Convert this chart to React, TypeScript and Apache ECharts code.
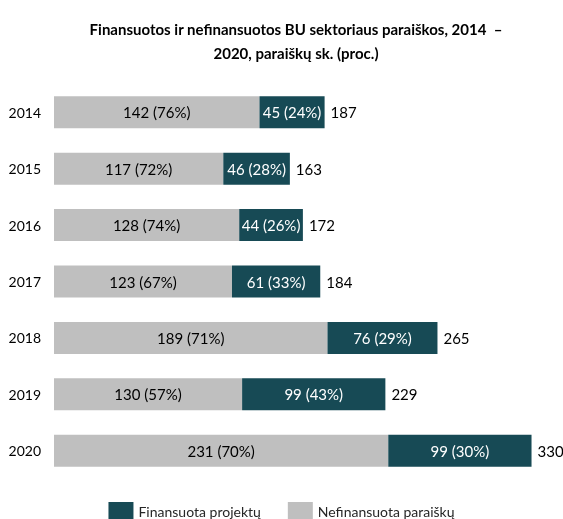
import React, { useEffect, useRef } from "react";
import * as echarts from "echarts";

const years = ["2014", "2015", "2016", "2017", "2018", "2019", "2020"];
const nefinansuota = [142, 117, 128, 123, 189, 130, 231];
const nefinansuotaPct = [76, 72, 74, 67, 71, 57, 70];
const finansuota = [45, 46, 44, 61, 76, 99, 99];
const finansuotaPct = [24, 28, 26, 33, 29, 43, 30];
const totals = [187, 163, 172, 184, 265, 229, 330];

const GREY = "#BFBFBF";
const TEAL = "#174A55";
const FONT = "Lato";

export default function App() {
  const ref = useRef<HTMLDivElement>(null);
  useEffect(() => {
    if (!ref.current) return;
    const chart = echarts.init(ref.current, undefined, { renderer: "svg" });
    chart.setOption({
      animation: false,
      textStyle: { fontFamily: FONT },
      title: {
        text: "Finansuotos ir nefinansuotos BU sektoriaus paraiškos, 2014  –\n2020, paraiškų sk. (proc.)",
        left: 291,
        textAlign: "center",
        top: 12,
        textStyle: { fontFamily: FONT, fontWeight: "bold", fontSize: 15, lineHeight: 24, color: "#000" },
      },
      legend: {
        data: ["Finansuota projektų", "Nefinansuota paraiškų"],
        left: "center",
        top: 497,
        itemWidth: 25,
        itemHeight: 18,
        itemGap: 27,
        icon: "rect",
        textStyle: { fontFamily: FONT, fontSize: 14, color: "#262626" },
      },
      grid: { left: 54, right: 17, top: 84, bottom: 40 },
      xAxis: { type: "value", min: 0, max: 340, show: false },
      yAxis: {
        type: "category",
        data: years,
        inverse: true,
        axisLine: { show: false },
        axisTick: { show: false },
        axisLabel: { fontFamily: FONT, fontSize: 14, color: "#000", margin: 13 },
      },
      series: [
        {
          name: "Nefinansuota paraiškų",
          type: "bar",
          stack: "a",
          barWidth: 32,
          data: nefinansuota,
          itemStyle: { color: GREY },
          label: {
            show: true,
            position: "inside",
            fontFamily: FONT,
            fontSize: 15,
            color: "#000",
            formatter: (p: any) => `${p.value} (${nefinansuotaPct[p.dataIndex]}%)`,
          },
        },
        {
          name: "Finansuota projektų",
          type: "bar",
          stack: "a",
          barWidth: 32,
          data: finansuota,
          itemStyle: { color: TEAL },
          label: {
            show: true,
            position: "inside",
            fontFamily: FONT,
            fontSize: 15,
            color: "#fff",
            formatter: (p: any) => `${p.value} (${finansuotaPct[p.dataIndex]}%)`,
          },
        },
        {
          name: "total",
          type: "bar",
          barWidth: 32,
          barGap: "-100%",
          data: totals,
          z: 0,
          silent: true,
          itemStyle: { color: "transparent" },
          label: {
            show: true,
            position: "right",
            distance: 6,
            fontFamily: FONT,
            fontSize: 15,
            color: "#000",
          },
        },
      ],
    });
    return () => chart.dispose();
  }, []);
  return <div ref={ref} style={{ position: "fixed", left: 0, top: 0, width: 563, height: 519 }} />;
}
